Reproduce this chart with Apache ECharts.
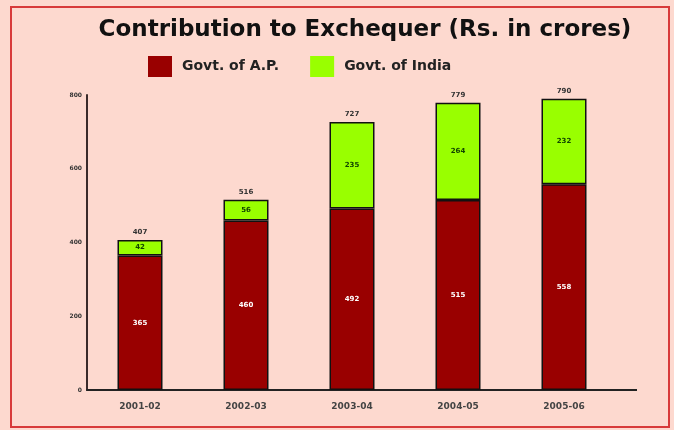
<!DOCTYPE html>
<html>
<head>
<meta charset="utf-8">
<script src="https://cdn.jsdelivr.net/npm/echarts@6/dist/echarts.min.js"></script>
<style>
html,body{margin:0;padding:0;background:#fdd9cf;}
#c{width:674px;height:430px;}
</style>
</head>
<body>
<div id="c"></div>
<script>
var categories = ['2001-02', '2002-03', '2003-04', '2004-05', '2005-06'];
var govtAP = [365, 460, 492, 515, 558];
var govtIndia = [42, 56, 235, 264, 232];
var yTicks = [0, 200, 400, 600, 800];
var totals = govtAP.map(function (v, i) { return v + govtIndia[i]; });

var chart = echarts.init(document.getElementById('c'));
chart.setOption({
  backgroundColor: '#fdd9cf',
  animation: false,
  title: {
    text: 'Contribution to Exchequer (Rs. in crores)',
    left: 360, top: 14, textAlign: 'center',
    textStyle: { fontFamily: 'DejaVu Sans', fontWeight: 'bold', fontSize: 23, color: '#111' }
  },
  legend: {
    top: 51, left: 143,
    icon: 'rect',
    itemWidth: 24, itemHeight: 21, itemGap: 31,
    textStyle: { fontFamily: 'DejaVu Sans', fontWeight: 'bold', fontSize: 14, color: '#222', padding: [0, 0, 0, 5] },
    data: [
      { name: 'Govt. of A.P.', itemStyle: { borderWidth: 0 } },
      { name: 'Govt. of India', itemStyle: { borderWidth: 0 } }
    ]
  },
  grid: { left: 87, right: 57, top: 95, bottom: 40 },
  xAxis: {
    type: 'category',
    data: categories,
    axisLine: { lineStyle: { color: '#222', width: 2 } },
    axisTick: { show: false },
    axisLabel: { fontFamily: 'DejaVu Sans', fontWeight: 'bold', fontSize: 9, color: '#444', margin: 12 }
  },
  yAxis: {
    type: 'value', min: 0, max: 800, interval: 200,
    splitLine: { show: false },
    axisLine: { show: true, lineStyle: { color: '#3a2a2a', width: 2 } },
    axisTick: { show: false },
    axisLabel: {
      fontFamily: 'DejaVu Sans', fontWeight: 'bold', fontSize: 6, color: '#333', margin: 5,
      formatter: function (v) { return yTicks.indexOf(v) >= 0 ? String(v) : ''; }
    }
  },
  graphic: [
    { type: 'line', shape: { x1: 617, y1: 390, x2: 637, y2: 390 }, style: { stroke: '#222', lineWidth: 2 } },
    { type: 'rect', shape: { x: 11, y: 7, width: 658, height: 420 }, style: { fill: 'none', stroke: '#d83a3a', lineWidth: 2 } }
  ],
  series: [
    {
      name: 'Govt. of A.P.', type: 'bar', stack: 'a', barWidth: 45,
      data: govtAP,
      itemStyle: { color: '#990000', borderColor: '#111', borderWidth: 1.5 },
      label: { show: true, position: 'inside', color: '#fff', fontFamily: 'DejaVu Sans', fontWeight: 'bold', fontSize: 7 }
    },
    {
      name: 'Govt. of India', type: 'bar', stack: 'a', barWidth: 45,
      data: govtIndia,
      itemStyle: { color: '#99ff00', borderColor: '#111', borderWidth: 1.5 },
      label: { show: true, position: 'inside', color: '#114400', fontFamily: 'DejaVu Sans', fontWeight: 'bold', fontSize: 7 }
    },
    {
      name: 'Total', type: 'bar', barWidth: 45, barGap: '-100%', z: 0,
      data: totals,
      itemStyle: { color: 'rgba(0,0,0,0)' },
      label: { show: true, position: 'top', distance: 4, color: '#333', fontFamily: 'DejaVu Sans', fontWeight: 'bold', fontSize: 7 },
      emphasis: { disabled: true }
    }
  ]
});
</script>
</body>
</html>
